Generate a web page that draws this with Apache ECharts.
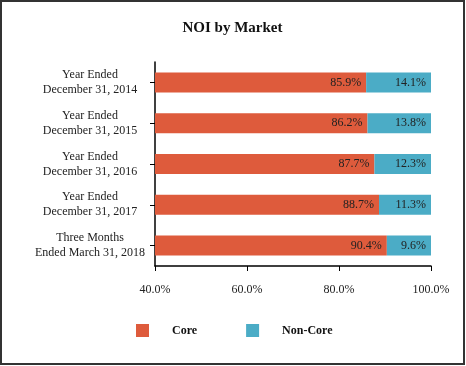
<!DOCTYPE html>
<html>
<head>
<meta charset="utf-8">
<script src="https://cdn.jsdelivr.net/npm/echarts@6/dist/echarts.min.js"></script>
<style>
html,body{margin:0;padding:0;background:#fff;}
#c{width:465px;height:365px;box-sizing:border-box;border:2px solid #333;}
</style>
</head>
<body>
<div id="c"></div>
<script>
const categories = [
  "Year Ended\nDecember 31, 2014",
  "Year Ended\nDecember 31, 2015",
  "Year Ended\nDecember 31, 2016",
  "Year Ended\nDecember 31, 2017",
  "Three Months\nEnded March 31, 2018"
];
const coreValues = [85.9, 86.2, 87.7, 88.7, 90.4];
const nonCoreValues = [14.1, 13.8, 12.3, 11.3, 9.6];
const xTicks = [40, 60, 80, 100];

const FONT = '"Liberation Serif", "Times New Roman", serif';
const chart = echarts.init(document.getElementById('c'), null, {renderer: 'canvas'});
const labelCfg = {
  show: true, position: 'insideRight', distance: 5,
  color: '#222', fontFamily: FONT, fontSize: 12,
  formatter: p => p.value.toFixed(1) + '%'
};
chart.setOption({
  animation: false,
  title: {
    text: 'NOI by Market', left: 'center', top: 14,
    textStyle: {fontFamily: FONT, fontSize: 15, fontWeight: 'bold', color: '#111'}
  },
  legend: {
    left: 129, top: 317, icon: 'rect', itemWidth: 13, itemHeight: 13, itemGap: 49,
    textStyle: {fontFamily: FONT, fontSize: 12, fontWeight: 'bold', color: '#111', padding: [0, 0, 0, 18]},
    data: ['Core', 'Non-Core']
  },
  grid: {left: 153, right: 32, top: 60, bottom: 97, containLabel: false},
  xAxis: {
    type: 'value', min: xTicks[0], max: xTicks[xTicks.length - 1], interval: 20,
    axisLine: {show: true, lineStyle: {color: '#000', width: 1.5}},
    axisTick: {show: true, length: 5, lineStyle: {color: '#000'}},
    splitLine: {show: false},
    axisLabel: {fontFamily: FONT, fontSize: 12, color: '#222', margin: 18,
      formatter: v => v.toFixed(1) + '%'}
  },
  yAxis: {
    type: 'category', inverse: true, data: categories,
    axisLine: {show: true, lineStyle: {color: '#000', width: 1.5}},
    axisTick: {show: true, alignWithLabel: true, length: 5, lineStyle: {color: '#000'}},
    axisLabel: {fontFamily: FONT, fontSize: 12, color: '#222', margin: 65, lineHeight: 15, align: 'center'}
  },
  series: [
    {name: 'Core', type: 'bar', stack: 'a', data: coreValues, barWidth: 20,
      itemStyle: {color: '#DE5B3C'}, label: labelCfg},
    {name: 'Non-Core', type: 'bar', stack: 'a', data: nonCoreValues, barWidth: 20,
      itemStyle: {color: '#4BACC6'}, label: labelCfg}
  ]
});
</script>
</body>
</html>
